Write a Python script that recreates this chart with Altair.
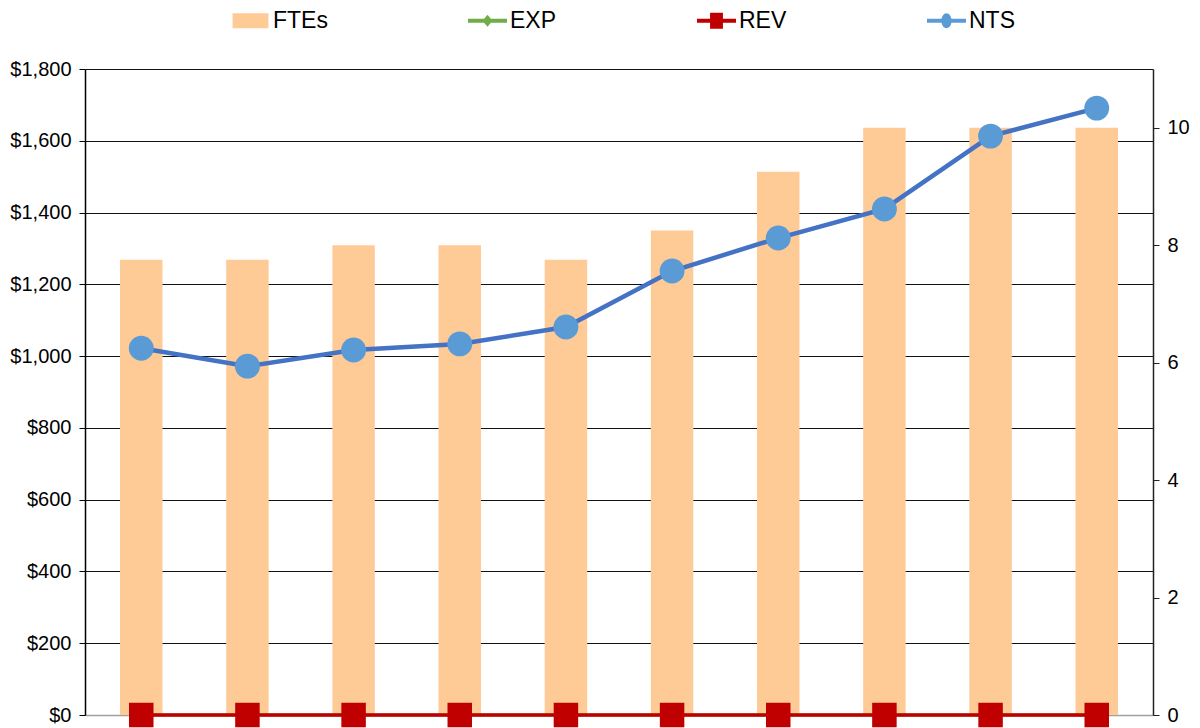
import altair as alt
import pandas as pd

categories = ["1", "2", "3", "4", "5", "6", "7", "8", "9", "10"]
ftes = [7.75, 7.75, 8.0, 8.0, 7.75, 8.25, 9.25, 10.0, 10.0, 10.0]
exp_vals = [0, 0, 0, 0, 0, 0, 0, 0, 0, 0]
rev_vals = [0, 0, 0, 0, 0, 0, 0, 0, 0, 0]
nts_vals = [1022, 972, 1017, 1034, 1081, 1237, 1329, 1410, 1613, 1691]

series_names = ["FTEs", "EXP", "REV", "NTS"]
legend_colors = ["#FECB96", "#70AD47", "#C00000", "#5B9BD5"]
legend_paths = [
    "M-0.92,-0.38H0.92V0.38H-0.92Z",
    "M-1,-0.1H1V0.1H-1Z M0,-0.31L0.26,0L0,0.31L-0.26,0Z",
    "M-1,-0.1H1V0.1H-1Z M-0.33,-0.41H0.33V0.41H-0.33Z",
    "M-1,-0.1H1V0.1H-1Z M-0.26,0A0.26,0.38 0 1,1 0.26,0A0.26,0.38 0 1,1 -0.26,0Z",
]

bar_df = pd.DataFrame({"cat": categories, "FTEs": ftes})
exp_df = pd.DataFrame({"cat": categories, "value": exp_vals})
rev_df = pd.DataFrame({"cat": categories, "value": rev_vals})
nts_df = pd.DataFrame({"cat": categories, "value": nts_vals})
legend_df = pd.DataFrame({"series": series_names})

FONT = "Liberation Sans"

x_enc = alt.X(
    "cat:N",
    sort=categories,
    scale=alt.Scale(paddingInner=0.6, paddingOuter=0.33),
    axis=alt.Axis(labels=False, ticks=False, title=None, domainColor="#A0A0A0", domainWidth=1.5),
)

bars = alt.Chart(bar_df).mark_bar(color="#FECB96").encode(
    x=x_enc,
    y=alt.Y(
        "FTEs:Q",
        scale=alt.Scale(domain=[0, 11], nice=False),
        axis=alt.Axis(
            orient="right", values=[0, 2, 4, 6, 8, 10], title=None, grid=False,
            labelFont=FONT, labelFontSize=20, labelColor="black",
            tickColor="#222", tickSize=6, labelPadding=8,
            domainColor="#222", domainWidth=1.5,
        ),
    ),
)

y_left = alt.Y(
    "value:Q",
    scale=alt.Scale(domain=[0, 1800], nice=False),
    axis=alt.Axis(
        orient="left", values=list(range(0, 1801, 200)), format="$,.0f", title=None,
        labelFont=FONT, labelFontSize=20, labelColor="black",
        tickColor="black", tickSize=6, labelPadding=8,
        domainColor="black", domainWidth=1.5,
        grid=True, gridColor="#111", gridWidth=1.2,
    ),
)


def series_layers(df, color, marker_color, width, shape, size):
    ln = alt.Chart(df).mark_line(color=color, strokeWidth=width).encode(x=x_enc, y=y_left)
    pt = alt.Chart(df).mark_point(filled=True, opacity=1, color=marker_color, shape=shape, size=size).encode(
        x=x_enc, y=y_left
    )
    return [ln, pt]


exp_layers = series_layers(exp_df, "#70AD47", "#70AD47", 3, "diamond", 90)
rev_layers = series_layers(rev_df, "#C00000", "#C00000", 3.5, "square", 600)
nts_layers = series_layers(nts_df, "#4472C4", "#5B9BD5", 4.5, "circle", 620)

legend_props = dict(
    title=None, orient="none", legendX=146, legendY=-68, direction="horizontal",
    symbolSize=1521, symbolStrokeWidth=0, symbolOpacity=1,
    labelFont=FONT, labelFontSize=23, labelColor="black",
    labelOffset=3, columnPadding=140, padding=0, labelLimit=300,
)

legend_layer = alt.Chart(legend_df).mark_point(filled=True).encode(
    color=alt.Color(
        "series:N",
        scale=alt.Scale(domain=series_names, range=legend_colors),
        sort=series_names,
        legend=alt.Legend(**legend_props),
    ),
    shape=alt.Shape(
        "series:N",
        scale=alt.Scale(domain=series_names, range=legend_paths),
        sort=series_names,
        legend=alt.Legend(**legend_props),
    ),
).transform_filter("false")

left_group = alt.layer(*exp_layers, *rev_layers, *nts_layers, legend_layer)

chart = (
    alt.layer(bars, left_group)
    .resolve_scale(y="independent")
    .properties(
        width=1068,
        height=646,
        autosize=alt.AutoSizeParams(type="none"),
        padding={"left": 77, "top": 61, "right": 39, "bottom": 13},
        background="white",
    )
    .configure_view(strokeWidth=0)
)

chart.save("out.html", embed_options={"renderer": "svg", "actions": False})
